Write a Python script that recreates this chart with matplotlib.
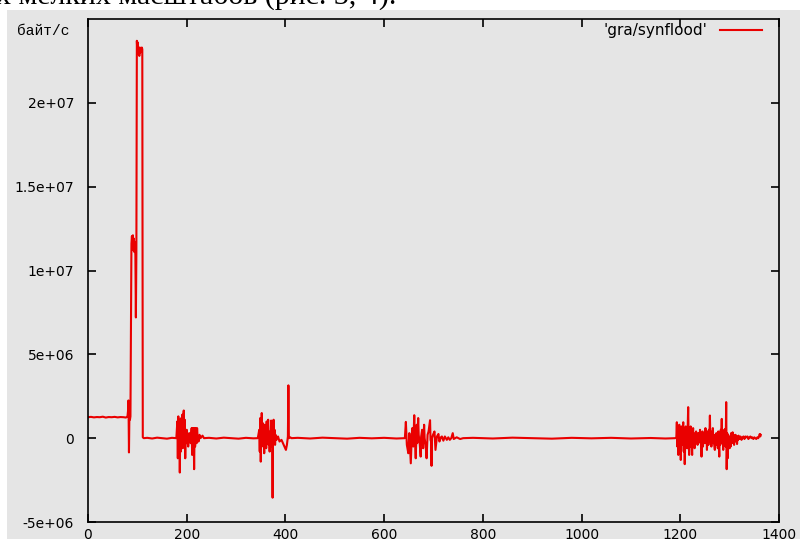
import matplotlib
matplotlib.use('Agg')
import matplotlib.pyplot as plt
from matplotlib.patches import Rectangle
import numpy as np

# values in units of 1e6 byte/s
start_x = [0, 6, 12, 18, 24, 30, 36, 42, 48, 54, 60, 66, 72, 77]
start_y = [1.25, 1.27, 1.24, 1.26, 1.25, 1.28, 1.23, 1.26, 1.25, 1.27, 1.24, 1.26, 1.25, 1.23]

surge_x = [80, 81, 82, 83, 84, 85, 86, 88, 89, 90, 91, 92, 93, 94, 95, 96, 97, 98,
           99, 100, 101, 102, 103, 104, 105, 106, 107, 108, 109, 110, 111, 113]
surge_y = [1.3, 1.6, 2.25, -0.85, 1.8, 1.1, 1.3, 11.6, 12.05, 11.3, 12.1, 11.2, 11.9, 11.1, 11.7, 10.9, 7.2, 11.0,
           23.7, 23.0, 23.6, 22.9, 23.1, 22.8, 23.3, 23.0, 23.2, 23.1, 23.3, 23.2, 0.05, 0.0]

flat1_x = [120, 130, 140, 150, 160, 170, 177]
flat1_y = [0.02, -0.02, 0.03, 0.0, -0.03, 0.02, 0.0]

burst1_x = [179, 181, 182, 183, 184, 185, 186, 187, 188, 189, 190, 191, 192, 193, 194, 195, 196,
            197, 198, 199, 200, 201, 202, 203, 204, 205, 206, 208, 210, 211, 212, 213, 214, 215,
            216, 217, 218, 219, 220, 221, 222, 224, 226, 228, 232, 235]
burst1_y = [0.0, 1.0, -1.2, 1.3, -0.5, 1.1, -2.05, 0.8, -0.8, 1.2, 0.3, 1.4, -0.6, 1.2, 1.65, -0.4, 1.1,
            -1.2, 0.4, -0.3, 0.5, -0.2, 0.3, -0.5, 0.2, 0.0, 0.3, -0.3, 0.6, -1.0, 0.6, 0.2, 0.6, -1.85,
            0.6, -0.5, 0.6, 0.5, -0.3, 0.6, 0.1, -0.2, 0.2, 0.0, 0.15, 0.0]

flat2_x = [245, 260, 275, 290, 305, 320, 335, 344]
flat2_y = [0.02, -0.02, 0.03, 0.0, -0.03, 0.02, -0.01, 0.0]

burst2_x = [347, 348, 349, 350, 351, 352, 353, 354, 355, 356, 357, 358, 359, 360, 361, 362, 363,
            364, 365, 366, 367, 368, 369, 370, 371, 372, 373, 374, 375, 376, 377, 378, 379, 380,
            382, 385, 388, 392, 395, 398, 401, 403, 405, 406, 407, 410, 412]
burst2_y = [0.5, -0.8, 1.2, -1.4, 0.3, 1.5, -0.3, 0.9, -0.5, 0.6, -0.9, 0.8, -0.2, 0.5, -0.6, 1.0, -0.3,
            0.3, 1.1, -0.4, 0.3, -0.8, 0.4, 0.1, 1.05, -0.5, 0.2, -3.55, 0.4, 1.1, -0.3, 0.5, -0.4, 0.2,
            -0.1, 0.1, -0.2, -0.1, -0.3, -0.5, -0.7, -0.4, 0.1, 3.15, 0.0, 0.05, 0.0]

flat3_x = [425, 450, 475, 500, 525, 550, 575, 600, 625, 640]
flat3_y = [0.02, -0.02, 0.03, 0.0, -0.03, 0.02, -0.01, 0.02, -0.02, 0.0]

burst3_x = [642, 644, 646, 649, 651, 654, 656, 657, 659, 661, 662, 664, 666, 667, 669, 670, 672,
            674, 675, 677, 679, 681, 682, 684, 686, 688, 690, 693, 694, 695, 696, 697, 699, 702,
            704, 707, 710, 712, 715, 717, 720, 723, 727, 730, 733, 736, 739, 741, 747, 754, 760]
burst3_y = [0.0, 0.97, -0.4, -0.9, 0.3, -1.5, 0.2, 0.6, -0.5, 1.37, 0.1, -1.2, 0.8, -0.3, 1.2, 0.2, -0.3,
            -1.1, 0.1, 0.5, -0.6, 0.8, 0.0, -0.4, -1.2, 0.2, 0.4, 1.07, -0.1, -0.2, -1.65, 0.0, 0.2, 0.4,
            -0.7, 0.1, 0.25, -0.2, 0.05, 0.1, -0.15, 0.1, -0.1, 0.05, -0.1, 0.0, 0.3, -0.05, 0.05, -0.05, 0.0]

flat4_x = [780, 820, 860, 900, 940, 980, 1020, 1060, 1100, 1140, 1170, 1190]
flat4_y = [0.02, -0.02, 0.03, 0.0, -0.03, 0.02, -0.01, 0.02, -0.02, 0.01, -0.02, 0.0]

burst4_x = [1192, 1193, 1194, 1195, 1196, 1197, 1198, 1199, 1200, 1201, 1202, 1203, 1204, 1205, 1206,
            1207, 1208, 1209, 1210, 1211, 1212, 1213, 1214, 1215, 1216, 1217, 1218, 1219, 1220, 1221,
            1222, 1223, 1224, 1225, 1226, 1227, 1228, 1229, 1230, 1231, 1232, 1233, 1234, 1235, 1236,
            1237, 1238, 1239, 1240, 1241, 1242, 1243, 1244, 1245, 1246, 1247, 1248, 1249, 1250, 1251,
            1252, 1253, 1254, 1255, 1256, 1257, 1258, 1259, 1260, 1261, 1262, 1263, 1264, 1265, 1266,
            1267, 1268, 1269, 1270, 1271, 1272, 1273, 1274, 1275, 1276, 1277, 1278, 1279, 1280, 1281,
            1282, 1283, 1284, 1285, 1286, 1287, 1288, 1289, 1290, 1291, 1292, 1293, 1294, 1295, 1296,
            1297, 1298, 1299, 1300, 1301, 1302, 1303, 1304, 1305, 1306, 1307, 1308, 1309, 1310, 1311,
            1312, 1313, 1314, 1315, 1316, 1317, 1318, 1320, 1322, 1324, 1326, 1328, 1330, 1332, 1334,
            1336, 1338, 1340, 1342, 1344, 1346, 1348, 1350, 1352, 1354, 1356, 1358, 1360, 1361, 1362, 1363]
burst4_y = [0.05, 0.95, -0.5, 0.6, -1.0, 0.3, 0.8, -0.6, 0.4, -1.3, 0.2, 0.7, -0.4, 0.5, 0.95,
            -0.8, 0.3, -1.55, -0.2, 0.7, -0.3, 0.5, -0.6, 0.6, 1.85, -0.2, -1.0, 0.3, -0.5, 0.7,
            0.1, -0.4, -1.0, 0.2, 0.6, -0.3, 0.1, -0.6, 0.3, -0.2, 0.4, -0.1, 0.2, -0.4, 0.3,
            -0.2, 0.3, 0.0, 0.5, -0.3, 0.2, -1.1, 0.0, 0.4, -0.5, 0.2, -0.2, 0.3, -0.3, 0.6,
            -0.1, 0.3, -0.7, 0.1, 0.4, -0.4, 0.5, 0.0, 1.35, -0.2, 0.4, -0.5, 0.3, -0.1, 0.6,
            -0.3, 0.2, -0.4, -0.7, 0.2, -0.2, 0.3, -0.4, 0.15, -0.6, 0.4, -0.3, -1.1, 0.2, -0.4,
            0.5, 0.1, 1.15, -0.3, 0.3, -0.7, 0.2, 0.5, -0.2, 0.55, -0.5, 2.15, -1.85, 0.3, -1.2,
            0.2, -0.3, 0.05, -0.6, 0.1, -0.5, 0.3, -0.2, 0.1, 0.35, -0.3, 0.2, -0.4, 0.1, -0.2,
            0.2, -0.1, 0.05, -0.35, 0.1, -0.1, 0.15, -0.05, 0.1, -0.1, 0.05, 0.1, -0.05, 0.1, 0.05,
            0.1, -0.05, 0.05, 0.1, 0.0, 0.05, -0.05, 0.05, 0.0, -0.05, 0.05, 0.0, 0.15, 0.25, 0.1, 0.2]

x = np.concatenate([start_x, surge_x, flat1_x, burst1_x, flat2_x, burst2_x,
                    flat3_x, burst3_x, flat4_x, burst4_x])
y = np.concatenate([start_y, surge_y, flat1_y, burst1_y, flat2_y, burst2_y,
                    flat3_y, burst3_y, flat4_y, burst4_y]) * 1e6

xticks = [0, 200, 400, 600, 800, 1000, 1200, 1400]
yticks = [-5e6, 0, 5e6, 1e7, 1.5e7, 2e7]
ytick_labels = ['-5e+06', '0', '5e+06', '1e+07', '1.5e+07', '2e+07']

W, H = 800, 539
grey = '#e5e5e5'
fig = plt.figure(figsize=(8, 5.39), dpi=100)
fig.patches.append(Rectangle((7 / W, 0), 793 / W, 529 / H, transform=fig.transFigure,
                             facecolor=grey, edgecolor='none', zorder=-5))

# cut-off line of the document text above the screenshot
fig.text(396 / W, 1 - 4 / H, 'х мелких масштабов (рис. 3, 4).', family='Liberation Serif',
         fontsize=21.5, ha='right', va='baseline', zorder=-6)

ax = fig.add_axes([88 / W, 1 - 522 / H, (779 - 88) / W, (522 - 19) / H])
ax.set_zorder(2)
ax.set_facecolor(grey)
ax.plot(x, y, color='#ea0000', lw=1.5, label="'gra/synflood'")
ax.set_xlim(0, 1400)
ax.set_ylim(-5e6, 2.5e7)
ax.set_xticks(xticks)
ax.set_yticks(yticks)
ax.set_yticklabels(ytick_labels)
ax.tick_params(direction='in', top=True, right=True, length=6, width=1.2, labelsize=10)
ax.tick_params(axis='y', pad=10)
ax.tick_params(axis='x', pad=4)
for s in ax.spines.values():
    s.set_linewidth(1.2)

ax.legend(loc='center right', bbox_to_anchor=(762 / W, 1 - 30.5 / H),
          bbox_transform=fig.transFigure, frameon=False, markerfirst=False,
          handlelength=2.75, handletextpad=0.85, borderpad=0, borderaxespad=0, fontsize=11)

fig.text(17 / W, 1 - 31 / H, 'байт/с', family='Liberation Mono', fontsize=10.5, va='center')

fig.savefig('out.png', dpi=100)
